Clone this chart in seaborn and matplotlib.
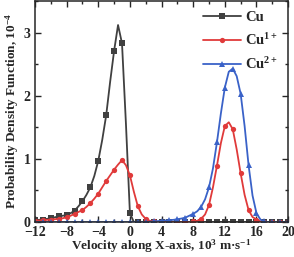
import numpy as np
import matplotlib
matplotlib.use('Agg')
import matplotlib.pyplot as plt
from matplotlib.ticker import MultipleLocator
import seaborn as sns
import pandas as pd

# velocity grid, 10^3 m/s (markers every 1, line points every 0.5)
velocity = np.arange(-12, 20.5, 0.5)

cu = [0.03, 0.035, 0.04, 0.05, 0.06, 0.075, 0.09, 0.10, 0.11, 0.14, 0.18, 0.25,
      0.33, 0.43, 0.55, 0.73, 0.97, 1.30, 1.69, 2.22, 2.71, 3.12, 2.83, 1.55,
      0.14] + [0.0] * 40

cu1 = [0.02, 0.025, 0.03, 0.035, 0.04, 0.045, 0.05, 0.06, 0.074, 0.10, 0.13, 0.16,
       0.19, 0.24, 0.30, 0.37, 0.45, 0.55, 0.65, 0.74, 0.83, 0.91, 0.98, 0.90,
       0.74, 0.48, 0.25, 0.12, 0.05, 0.02, 0.01, 0.0, 0.0, 0.0, 0.0, 0.0,
       0.0, 0.0, 0.0, 0.0, 0.01, 0.02, 0.05, 0.12, 0.27, 0.55, 0.89, 1.25,
       1.52, 1.58, 1.47, 1.15, 0.77, 0.43, 0.19, 0.08, 0.04, 0.01,
       0.0, 0.0, 0.0, 0.0, 0.0, 0.0, 0.0]

cu2 = [0.0] * 29 + [0.005, 0.01, 0.015, 0.02, 0.025, 0.03, 0.035, 0.045, 0.055,
                    0.07, 0.10, 0.13, 0.17, 0.24, 0.36, 0.55, 0.85, 1.26, 1.72,
                    2.13, 2.38, 2.43, 2.31, 2.03, 1.52, 0.90, 0.42, 0.14, 0.04,
                    0.01, 0.0, 0.0, 0.0, 0.0, 0.0, 0.0]

labels = ['Cu', 'Cu$^{1+}$', 'Cu$^{2+}$']
colors = ['#404040', '#e03a3a', '#3a62c8']
markers = ['s', 'o', '^']

sns.set_style('ticks')
plt.rcParams['font.family'] = ['Liberation Serif', 'DejaVu Serif']
plt.rcParams['font.weight'] = 'bold'
plt.rcParams['mathtext.fontset'] = 'custom'
plt.rcParams['mathtext.rm'] = 'Liberation Serif:bold'
plt.rcParams['mathtext.it'] = 'Liberation Serif:bold'
plt.rcParams['mathtext.bf'] = 'Liberation Serif:bold'
plt.rcParams['mathtext.default'] = 'rm'

df = pd.DataFrame({'v': velocity, 'Cu': cu, 'Cu1': cu1, 'Cu2': cu2})

fig = plt.figure(figsize=(2.94, 2.57), dpi=100)
ax = fig.add_axes([0.119, 0.136, 0.861, 0.86])

for col, lab, c, m in zip(['Cu', 'Cu1', 'Cu2'], labels, colors, markers):
    sns.lineplot(x='v', y=col, data=df, ax=ax, color=c, marker=m, markersize=3.8,
                 markeredgewidth=0, markevery=2, linewidth=1.3, label=lab)

ax.set_xlim(-12, 20)
ax.set_ylim(0, 3.5)
ax.xaxis.set_major_locator(MultipleLocator(4))
ax.xaxis.set_minor_locator(MultipleLocator(2))
ax.yaxis.set_major_locator(MultipleLocator(1))
ax.yaxis.set_minor_locator(MultipleLocator(0.5))
ax.tick_params(which='both', direction='in', top=True, right=True, labelsize=10,
               width=1, pad=3)
ax.tick_params(axis='x', pad=2.5)
ax.tick_params(which='major', length=4)
ax.tick_params(which='minor', length=2.5)
for s in ax.spines.values():
    s.set_linewidth(1.1)

ax.set_xlabel('Velocity along X-axis, 10$^3$ m·s$^{-1}$', fontsize=9.5,
              fontweight='bold', labelpad=-0.5)
ax.set_ylabel('Probability Density Function, 10$^{-4}$', fontsize=9.5,
              fontweight='bold', labelpad=2)

ax.legend(loc='upper right', frameon=False, fontsize=10.5, handlelength=2.6,
          handletextpad=0.3, labelspacing=0.55, borderaxespad=0.3)

fig.savefig('out.png', dpi=100)
